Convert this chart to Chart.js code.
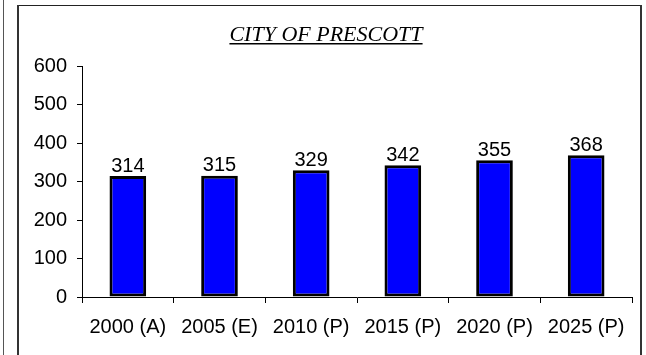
<!DOCTYPE html>
<html>
<head>
<meta charset="utf-8">
<script src="https://cdn.jsdelivr.net/npm/chart.js@4/dist/chart.umd.min.js"></script>
<style>
  html, body { margin: 0; padding: 0; background: #fff; }
  #wrap { width: 646px; height: 355px; }
</style>
</head>
<body>
<div id="wrap"><canvas id="grafico" width="646" height="355"></canvas></div>
<script>
// Population series, City of Prescott
const anos = ['2000 (A)', '2005 (E)', '2010 (P)', '2015 (P)', '2020 (P)', '2025 (P)'];
const populacao = [314, 315, 329, 342, 355, 368];
const yTicks = [0, 100, 200, 300, 400, 500, 600];
const titulo = 'CITY OF PRESCOTT';

// frame + underlined italic title
const molduraPlugin = {
  id: 'moldura',
  beforeDraw(chart) {
    const ctx = chart.ctx;
    ctx.save();
    ctx.fillStyle = '#fff';
    ctx.fillRect(0, 0, chart.width, chart.height);
    // neighbour panel edge
    ctx.strokeStyle = '#555';
    ctx.lineWidth = 1;
    ctx.beginPath();
    ctx.moveTo(3.5, 0); ctx.lineTo(3.5, chart.height);
    ctx.stroke();
    // chart box
    ctx.strokeStyle = '#222';
    ctx.lineWidth = 1;
    ctx.beginPath();
    ctx.moveTo(17, 5.5); ctx.lineTo(641, 5.5);
    ctx.stroke();
    ctx.lineWidth = 2;
    ctx.strokeStyle = '#333';
    ctx.beginPath();
    ctx.moveTo(18, 5); ctx.lineTo(18, chart.height);
    ctx.moveTo(641, 5); ctx.lineTo(641, chart.height);
    ctx.stroke();
    ctx.restore();
  },
  afterDraw(chart) {
    const ctx = chart.ctx;
    ctx.save();
    ctx.font = 'italic 22px "Liberation Serif", "DejaVu Serif", serif';
    ctx.fillStyle = '#000';
    ctx.textAlign = 'center';
    ctx.textBaseline = 'alphabetic';
    const cx = 326;
    ctx.fillText(titulo, cx, 41);
    const w = ctx.measureText(titulo).width;
    ctx.fillRect(cx - w / 2, 43, w, 1.5);
    ctx.restore();
  }
};

// value labels above each bar
const rotulosPlugin = {
  id: 'rotulos',
  afterDatasetsDraw(chart) {
    const ctx = chart.ctx;
    const meta = chart.getDatasetMeta(0);
    ctx.save();
    ctx.font = '20px "Liberation Sans", Arial, sans-serif';
    ctx.fillStyle = '#000';
    ctx.textAlign = 'center';
    ctx.textBaseline = 'bottom';
    meta.data.forEach((bar, i) => {
      ctx.fillText(String(populacao[i]), bar.x, bar.y);
    });
    ctx.restore();
  }
};

const fonte = { family: '"Liberation Sans", Arial, sans-serif', size: 20 };

new Chart(document.getElementById('grafico'), {
  type: 'bar',
  data: {
    labels: anos,
    datasets: [{
      label: 'Population',
      data: populacao,
      backgroundColor: '#0000ff',
      borderColor: '#000',
      borderWidth: 3,
      borderSkipped: false,
      barPercentage: 0.4,
      categoryPercentage: 1.0
    }]
  },
  options: {
    responsive: false,
    animation: false,
    devicePixelRatio: 1,
    layout: { padding: { left: 0, right: 14, top: 66, bottom: 0 } },
    plugins: {
      legend: { display: false },
      title: { display: false },
      tooltip: { enabled: false }
    },
    scales: {
      x: {
        offset: true,
        grid: { display: true, drawOnChartArea: false, drawTicks: true, tickLength: 6, offset: true, color: '#000', lineWidth: 1 },
        border: { display: true, color: '#000', width: 1 },
        ticks: { color: '#000', font: fonte, padding: 12, maxRotation: 0, autoSkip: false },
        afterFit(scale) { scale.height = 58; }
      },
      y: {
        min: 0,
        max: 600,
        afterBuildTicks(scale) { scale.ticks = yTicks.map(v => ({ value: v })); },
        grid: { display: true, drawOnChartArea: false, drawTicks: true, tickLength: 5, color: '#000', lineWidth: 1 },
        border: { display: true, color: '#000', width: 1 },
        ticks: { color: '#000', font: fonte, padding: 10 },
        afterFit(scale) { scale.width = 82; }
      }
    }
  },
  plugins: [molduraPlugin, rotulosPlugin]
});
</script>
</body>
</html>
